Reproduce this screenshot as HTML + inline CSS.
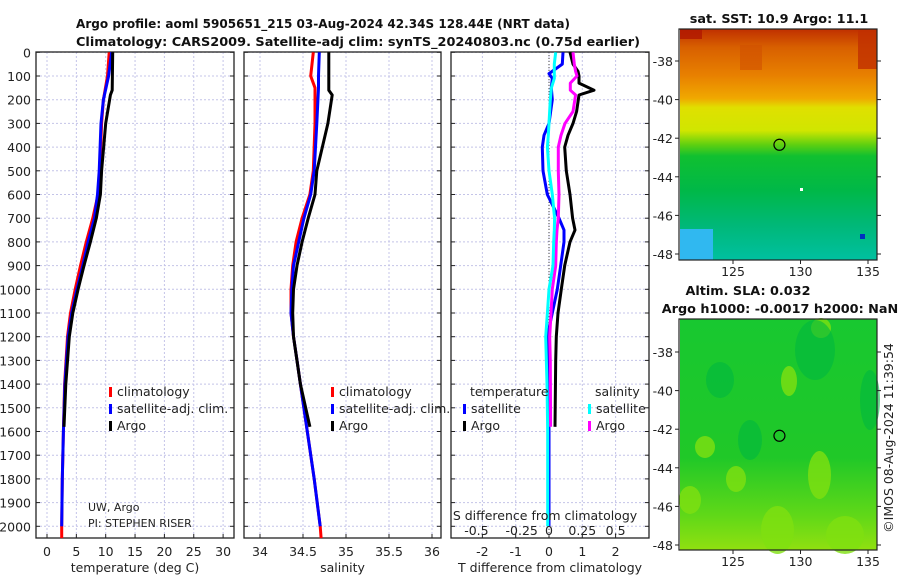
<!DOCTYPE html>
<html><head><meta charset="utf-8"><style>
body{margin:0;background:#fff;}
svg{display:block;font-family:"DejaVu Sans","Liberation Sans",sans-serif;}
.t{font-size:12.5px;fill:#222;}
.b{font-size:12.8px;font-weight:bold;fill:#111;}
.g{stroke:#c4c4e8;stroke-width:1;stroke-dasharray:2,2;}
</style></head><body>
<svg id="fig" width="900" height="580" viewBox="0 0 900 580">
<text class="b" x="76" y="28" textLength="494" lengthAdjust="spacingAndGlyphs">Argo profile: aoml 5905651_215 03-Aug-2024 42.34S 128.44E (NRT data)</text>
<text class="b" x="76" y="46" textLength="564" lengthAdjust="spacingAndGlyphs">Climatology: CARS2009. Satellite-adj clim: synTS_20240803.nc (0.75d earlier)</text>
<g id="p1"></g>
<g id="p2"></g>
<g id="p3"></g>
<g id="maps"></g>
<text class="t" x="0" y="0" transform="translate(893,438) rotate(-90)" text-anchor="middle">©IMOS 08-Aug-2024 11:39:54</text>
</svg>
<script>
// ---- data ----
const depthTicks=[0,100,200,300,400,500,600,700,800,900,1000,1100,1200,1300,1400,1500,1600,1700,1800,1900,2000];
const tTicks=[0,5,10,15,20,25,30];
const sTicks=[34,34.5,35,35.5,36];
const dTTicks=[-2,-1,0,1,2];
const dSTicks=[-0.5,-0.25,0,0.25,0.5];
const dSTickLabels=["-0.5","-0.25","0","0.25","0.5"];
const depthsA=[0,160,180,300,500,600,700,800,900,1000,1100,1200,1400,1580];
const tempArgo=[11.2,11.1,10.8,10.0,9.3,9.1,8.4,7.4,6.3,5.3,4.4,3.8,3.2,2.9];
const depthsC=[0,100,200,300,500,600,700,800,900,1000,1100,1200,1400,1600,1800,2000];
const tempClim=[10.6,10.3,9.6,9.3,9.0,8.7,7.8,6.7,5.7,4.8,4.0,3.5,3.0,2.8,2.6,2.5];
const tempSat=[11.0,10.5,9.6,9.2,8.9,8.6,8.1,7.0,6.1,5.1,4.2,3.6,3.05,2.8,2.6,2.5];
const salArgo=[34.80,34.80,34.84,34.79,34.66,34.64,34.56,34.49,34.43,34.39,34.38,34.39,34.47,34.58];
const salClimD=[0,100,150,300,500,600,700,800,900,1000,1100,1200,1300,1400,1600,1800,2000];
const salClim=[34.62,34.59,34.64,34.64,34.62,34.58,34.49,34.42,34.38,34.36,34.36,34.39,34.43,34.47,34.55,34.63,34.70];
const salSat=[34.69,34.68,34.68,34.66,34.63,34.59,34.51,34.45,34.39,34.37,34.36,34.39,34.43,34.47,34.55,34.63,34.70];
const diffD=[0,50,80,100,130,160,180,250,300,350,400,500,600,700,750,800,900,1000,1100,1200,1300,1580];
const dTArgo=[0.63,0.72,0.87,0.9,0.9,1.35,0.9,0.83,0.72,0.57,0.47,0.52,0.63,0.71,0.78,0.63,0.47,0.37,0.27,0.22,0.2,0.18];
const dSArgo=[0.18,0.19,0.2,0.21,0.16,0.16,0.2,0.18,0.12,0.09,0.07,0.07,0.075,0.07,0.06,0.055,0.05,0.025,0.015,0.005,0.01,0.012];
const diffD2=[0,50,90,110,150,200,300,350,400,500,600,700,750,800,900,1000,1100,1200,1400,1600,2000];
const dTSat=[0.42,0.4,0.0,0.1,0.07,0.1,0.0,-0.15,-0.2,-0.18,-0.05,0.3,0.45,0.45,0.35,0.25,0.1,-0.05,-0.02,0.0,0.0];
const dSSat=[0.05,0.04,0.04,0.04,0.018,0.01,0,-0.005,-0.012,0,0.025,0.042,0.04,0.035,0.03,0,-0.012,-0.025,-0.015,-0.01,-0.01];

// ---- scales ----
const NS="http://www.w3.org/2000/svg";
const yD=d=>52.3+d*0.237;
const xT=v=>47+v*5.87;
const xS=v=>260+(v-34)*86;
const xDT=v=>549+v*33.3;
const xDS=v=>549+v*133.2;
function mk(tag,at,parent){const e=document.createElementNS(NS,tag);for(const k in at)e.setAttribute(k,at[k]);parent.appendChild(e);return e;}
function line(parent,xs,ds,xf,col,w,name){
  const pts=xs.map((v,i)=>xf(v).toFixed(1)+","+yD(ds[i]).toFixed(1)).join(" ");
  const p=mk("polyline",{points:pts,fill:"none",stroke:col,"stroke-width":w,"stroke-linejoin":"round"},parent);
  
  
}
function txt(parent,x,y,s,anchor,name){const t=mk("text",{x:x,y:y,class:"t","text-anchor":anchor||"start"},parent);t.textContent=s;
  
  
  return t;}
function panel(g,x0,x1,xt,xf,labels,xlabel,name){
  depthTicks.forEach(d=>{mk("line",{x1:x0,x2:x1,y1:yD(d),y2:yD(d),class:"g"},g);
    mk("line",{x1:x0,x2:x0+4,y1:yD(d),y2:yD(d),stroke:"#222"},g);mk("line",{x1:x1-4,x2:x1,y1:yD(d),y2:yD(d),stroke:"#222"},g);});
  xt.forEach((v,i)=>{const x=xf(v);mk("line",{x1:x,x2:x,y1:52,y2:538,class:"g"},g);
    mk("line",{x1:x,x2:x,y1:538,y2:534,stroke:"#222"},g);
    if(labels)txt(g,x,556,labels[i],"middle",name+"-x-tick");});
  const r=mk("rect",{x:x0,y:52,width:x1-x0,height:486,fill:"none",stroke:"#222","stroke-width":1.3},g);
  
  
  txt(g,(x0+x1)/2,572,xlabel,"middle",name+"-x-title");
}
function legItem(g,x,y,col,label,name){mk("rect",{x:x,y:y-9,width:3,height:10,fill:col},g);txt(g,x+8,y,label,"start",name);}

const p1=document.getElementById("p1"),p2=document.getElementById("p2"),p3=document.getElementById("p3");
panel(p1,36,234,tTicks,xT,tTicks.map(String),"temperature (deg C)","temp");
depthTicks.forEach(d=>txt(p1,31,yD(d)+5,String(d),"end","depth-tick"));
line(p1,tempClim.concat([2.5]),depthsC.concat([2050]),xT,"#f00",3,"temp-climatology");
line(p1,tempSat,depthsC,xT,"#00f",3,"temp-satellite");
line(p1,tempArgo,depthsA,xT,"#000",3,"temp-argo");
legItem(p1,109,396,"#f00","climatology","legend-climatology");
legItem(p1,109,413,"#00f","satellite-adj. clim.","legend-satellite");
legItem(p1,109,430,"#000","Argo","legend-argo");
txt(p1,88,511,"UW, Argo","start","credit-uw").setAttribute("style","font-size:11px");
txt(p1,88,527,"PI: STEPHEN RISER","start","credit-pi").setAttribute("style","font-size:11px");

panel(p2,244,441,sTicks,xS,sTicks.map(String),"salinity","sal");
line(p2,salClim.concat([34.71]),salClimD.concat([2050]),xS,"#f00",3,"sal-climatology");
line(p2,salSat,salClimD,xS,"#00f",3,"sal-satellite");
line(p2,salArgo,depthsA,xS,"#000",3,"sal-argo");
legItem(p2,331,396,"#f00","climatology","legend2-climatology");
legItem(p2,331,413,"#00f","satellite-adj. clim.","legend2-satellite");
legItem(p2,331,430,"#000","Argo","legend2-argo");

panel(p3,451,649,dTTicks,xDT,dTTicks.map(String),"T difference from climatology","tdiff");
mk("line",{x1:549,x2:549,y1:52,y2:538,stroke:"#444","stroke-dasharray":"1,2"},p3);
line(p3,dTSat,diffD2,xDT,"#00f",3,"tdiff-satellite");
line(p3,dTArgo,diffD,xDT,"#000",3,"tdiff-argo");
line(p3,dSArgo,diffD,xDS,"#f0f",3,"sdiff-argo");
line(p3,dSSat,diffD2,xDS,"#0ff",3,"sdiff-satellite");
txt(p3,470,396,"temperature","start","legend3-temp-title");
legItem(p3,463,413,"#00f","satellite","legend3-tsat");
legItem(p3,463,430,"#000","Argo","legend3-targo");
txt(p3,595,396,"salinity","start","legend3-sal-title");
legItem(p3,588,413,"#0ff","satellite","legend3-ssat");
legItem(p3,588,430,"#f0f","Argo","legend3-sargo");
txt(p3,545,520,"S difference from climatology","middle","sdiff-axis-title");
dSTicks.forEach((v,i)=>txt(p3,xDS(v)-(i<2?-6:0)+(i==0?-12:0),535,dSTickLabels[i],"middle","sdiff-tick"));

// ---- maps ----
const maps=document.getElementById("maps");
const lonTicks=[125,130,135], latTicks=[-38,-40,-42,-44,-46,-48];
const xL=lon=>733+(lon-125)*13.5;
function mapFrame(y0,y1,yLat,name){
  const r=mk("rect",{x:679,y:y0,width:198,height:y1-y0,fill:"none",stroke:"#222","stroke-width":1.2},maps);
  
  
  latTicks.forEach(l=>{const y=yLat(l);mk("line",{x1:877,x2:881,y1:y,y2:y,stroke:"#222"},maps);mk("line",{x1:675,x2:679,y1:y,y2:y,stroke:"#222"},maps);txt(maps,673,y+5,String(l),"end",name+"-lat-tick");});
  lonTicks.forEach(l=>{mk("line",{x1:xL(l),x2:xL(l),y1:y1,y2:y1+4,stroke:"#222"},maps);txt(maps,xL(l),y1+16,String(l),"middle",name+"-lon-tick");});
  const c=mk("circle",{cx:xL(128.44),cy:yLat(-42.34),r:5.5,fill:"none",stroke:"#000","stroke-width":1.2},maps);
  
  
}
const yS=l=>61+(-38-l)*19.3, yA=l=>352+(-38-l)*19.3;
const defs=mk("defs",{},maps);
const lg=mk("linearGradient",{id:"sst",x1:0,y1:0,x2:0,y2:1},defs);
[[0,"#c03000"],[0.08,"#d86000"],[0.2,"#e88000"],[0.3,"#f0a800"],[0.34,"#e0e000"],[0.44,"#d0e600"],[0.5,"#60d010"],[0.55,"#10c030"],[0.7,"#00b848"],[0.85,"#00b878"],[1,"#00c0a0"]].forEach(s=>mk("stop",{offset:s[0],"stop-color":s[1]},lg));
const sst=mk("rect",{x:680,y:29,width:197,height:231,fill:"url(#sst)"},maps);


mk("rect",{x:680,y:29,width:22,height:10,fill:"#b01800",opacity:0.8},maps);
mk("rect",{x:858,y:29,width:19,height:40,fill:"#c03000",opacity:0.8},maps);
mk("rect",{x:740,y:45,width:22,height:25,fill:"#d05000",opacity:0.6},maps);
mk("rect",{x:680,y:229,width:33,height:31,fill:"#30b8f0"},maps);
mk("rect",{x:860,y:234,width:5,height:5,fill:"#0030c0"},maps);
mk("rect",{x:800,y:188,width:3,height:3,fill:"#fff"},maps);
mapFrame(29,260,yS,"sst");
txt(maps,779,23,"sat. SST: 10.9 Argo: 11.1","middle","sst-title").setAttribute("class","b");
const ag=mk("linearGradient",{id:"alt",x1:0,y1:0,x2:0,y2:1},defs);
[[0,"#18c830"],[0.6,"#20c828"],[0.85,"#60d818"],[1,"#90e010"]].forEach(s=>mk("stop",{offset:s[0],"stop-color":s[1]},ag));
const alt=mk("rect",{x:680,y:319,width:197,height:231,fill:"url(#alt)"},maps);


[[785,370,8,22],[699,440,12,14],[730,470,12,18],[683,490,14,20],[765,510,25,40],[830,520,30,30],[812,455,15,40],[815,322,12,12]].forEach(e=>mk("ellipse",{cx:e[0]+e[2]/2,cy:e[1]+e[3]/2,rx:e[2]/2+4,ry:e[3]/2+4,fill:"#80e010",opacity:0.8},maps));
[[720,380,14,18],[750,440,12,20],[815,350,20,30],[870,400,10,30]].forEach(e=>mk("ellipse",{cx:e[0],cy:e[1],rx:e[2],ry:e[3],fill:"#00b840",opacity:0.6},maps));
mapFrame(319,550,yA,"alt");
txt(maps,748,295,"Altim. SLA: 0.032","middle","altimetry-title").setAttribute("class","b");
txt(maps,780,313,"Argo h1000: -0.0017 h2000: NaN","middle","altimetry-subtitle").setAttribute("class","b");
</script>
</body></html>
